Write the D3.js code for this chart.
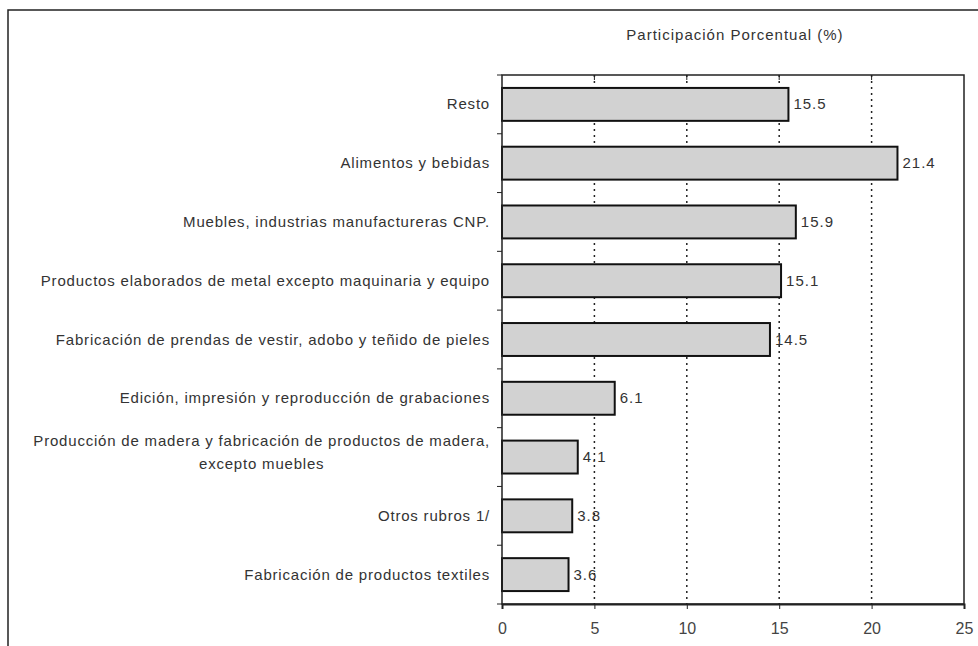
<!DOCTYPE html>
<html><head><meta charset="utf-8">
<script src="https://cdn.jsdelivr.net/npm/d3@7"></script>
<style>body{margin:0;background:#fff}svg{display:block}text{font-family:"Liberation Sans",Arial,sans-serif}</style>
</head><body><svg id="c" width="978" height="646"></svg>
<script>
const categories = [
  ["Resto"],
  ["Alimentos y bebidas"],
  ["Muebles, industrias manufactureras CNP."],
  ["Productos elaborados de metal excepto maquinaria y equipo"],
  ["Fabricación de prendas de vestir, adobo y teñido de pieles"],
  ["Edición, impresión y reproducción de grabaciones"],
  ["Producción de madera y fabricación de productos de madera,", "excepto muebles"],
  ["Otros rubros 1/"],
  ["Fabricación de productos textiles"]
];
const values = [15.5, 21.4, 15.9, 15.1, 14.5, 6.1, 4.1, 3.8, 3.6];
const xTicks = [0, 5, 10, 15, 20, 25];
const title = "Participación Porcentual (%)";

const svg = d3.select("#c");
const m = {l: 502, r: 964, t: 75, b: 604};
const x = d3.scaleLinear().domain([0, 25]).range([m.l, m.r]);
const y = d3.scaleBand().domain(d3.range(categories.length)).range([m.t, m.b]).paddingInner(0.44).paddingOuter(0.22);

// outer border
svg.append("path").attr("d", `M8,646 L8,10 L978,10`).attr("fill","none").attr("stroke","#222").attr("stroke-width",1.5);

// title
svg.append("text").attr("x", 735).attr("y", 40).attr("text-anchor","middle").attr("font-size",15)
  .attr("letter-spacing",1).attr("fill","#333").text(title);

// gridlines
svg.append("g").selectAll("line").data(xTicks.filter(d => d > 0 && d < 25)).join("line")
  .attr("x1", d => x(d)).attr("x2", d => x(d)).attr("y1", m.t).attr("y2", m.b)
  .attr("stroke","#222").attr("stroke-width",1.5).attr("stroke-dasharray","2,4");

// bars
svg.append("g").selectAll("rect").data(values).join("rect")
  .attr("x", x(0)).attr("y", (d,i) => y(i)).attr("width", d => x(d) - x(0)).attr("height", y.bandwidth())
  .attr("fill","#d2d2d2").attr("stroke","#111").attr("stroke-width",2);

// value labels
svg.append("g").selectAll("text").data(values).join("text")
  .attr("x", d => x(d) + 5).attr("y", (d,i) => y(i) + y.bandwidth()/2 + 5)
  .attr("font-size",15).attr("letter-spacing",1).attr("fill","#333").text(d => d.toFixed(1));

// frame
svg.append("rect").attr("x", m.l).attr("y", m.t).attr("width", m.r - m.l).attr("height", m.b - m.t)
  .attr("fill","none").attr("stroke","#222").attr("stroke-width",1.5);

// bottom axis
const xa = svg.append("g").attr("transform", `translate(0,${m.b})`)
  .call(d3.axisBottom(x).tickValues(xTicks).tickSize(5).tickPadding(14));
xa.select(".domain").attr("stroke","#222").attr("stroke-width",2);
xa.selectAll(".tick line").attr("stroke","#222");
xa.selectAll(".tick text").attr("font-size",16).attr("fill","#444").attr("font-family","Liberation Sans, Arial, sans-serif");

// top ticks
svg.append("g").selectAll("line").data(xTicks.filter(d => d > 0 && d < 25)).join("line")
  .attr("x1", d => x(d)).attr("x2", d => x(d)).attr("y1", m.t).attr("y2", m.t + 5).attr("stroke","#222");

// category separator ticks on left axis
svg.append("g").selectAll("line").data(d3.range(categories.length + 1)).join("line")
  .attr("x1", m.l - 5).attr("x2", m.l)
  .attr("y1", (d,i) => m.t + i * (m.b - m.t) / categories.length)
  .attr("y2", (d,i) => m.t + i * (m.b - m.t) / categories.length)
  .attr("stroke","#222");

// category labels
const lab = svg.append("g").selectAll("text").data(categories).join("text")
  .attr("text-anchor","end").attr("font-size",15).attr("letter-spacing",0.8).attr("fill","#333")
  .attr("transform", (d,i) => `translate(${m.l - 12},${y(i) + y.bandwidth()/2 + 5 - (d.length - 1) * 16})`);
lab.selectAll("tspan").data(d => d.map((t, j) => ({t, j, n: d.length}))).join("tspan")
  .attr("x", 0)
  .attr("dy", d => d.j === 0 ? 0 : 23)
  .text(d => d.t);
// center second line under first for multi-line labels
lab.each(function(d){
  if (d.length > 1) {
    const ts = d3.select(this).selectAll("tspan").nodes();
    const w0 = ts[0].getComputedTextLength();
    ts.slice(1).forEach(t => {
      t.setAttribute("text-anchor","middle");
      t.setAttribute("x", -w0/2);
    });
  }
});
</script></body></html>
